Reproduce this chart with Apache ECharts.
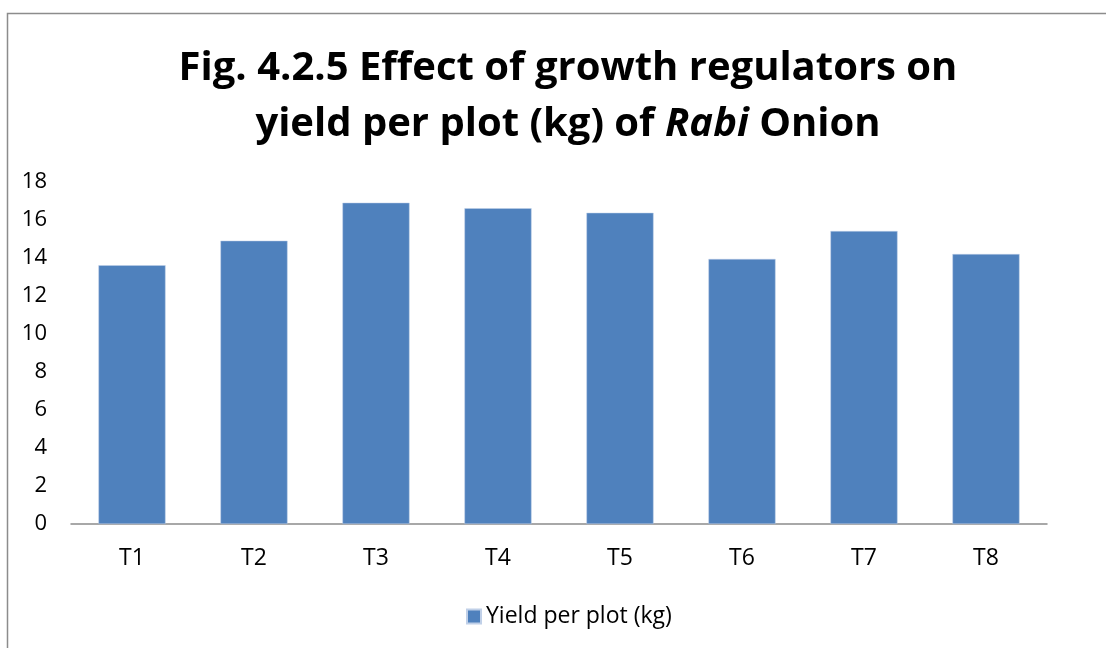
<!DOCTYPE html>
<html>
<head>
<meta charset="utf-8">
<script src="https://cdn.jsdelivr.net/npm/echarts@6/dist/echarts.min.js"></script>
<style>
	html, body { margin: 0; padding: 0; background: #fff; }
	#chart { width: 1106px; height: 648px; }
</style>
</head>
<body>
<div id="chart"></div>
<script>
	// treatments and yield
	const categories = ['T1', 'T2', 'T3', 'T4', 'T5', 'T6', 'T7', 'T8'];
	const yieldPerPlot = [13.62, 14.91, 16.91, 16.62, 16.38, 13.95, 15.42, 14.21];
	const seriesName = 'Yield per plot (kg)';

	const font = 'Open Sans';
	var myChart = echarts.init(document.getElementById('chart'));
	var option = {
		animation: false,
		backgroundColor: '#fff',
		textStyle: { fontFamily: font },
		graphic: [{
			type: 'rect',
			left: 5,
			top: 11,
			shape: { width: 1200, height: 800 },
			style: { fill: 'none', stroke: '#8c8c8c', lineWidth: 1.5 }
		}],
		title: {
			text: '{b|Fig. 4.2.5 Effect of growth regulators on}\n{b|yield per plot (kg) of }{i|Rabi}{b| Onion}',
			left: 563,
			textAlign: 'center',
			top: 36,
			textStyle: {
				rich: {
					b: { fontFamily: font, fontWeight: 'bold', fontSize: 40, color: '#000', lineHeight: 56 },
					i: { fontFamily: font, fontWeight: 'bold', fontStyle: 'italic', fontSize: 40, color: '#000', lineHeight: 56 }
				}
			}
		},
		legend: {
			top: 600,
			left: 461,
			itemWidth: 14,
			itemHeight: 14,
			icon: 'rect',
			itemGap: 8,
			textStyle: { fontSize: 23, color: '#000', fontFamily: font }
		},
		grid: { left: 71, right: 59, top: 182, bottom: 124 },
		xAxis: {
			type: 'category',
			data: categories,
			axisTick: { show: false },
			axisLine: { lineStyle: { color: '#8c8c8c', width: 1.5 } },
			axisLabel: { color: '#000', fontSize: 23, margin: 23 }
		},
		yAxis: {
			type: 'value',
			min: 0,
			max: 18,
			interval: 2,
			splitLine: { show: false },
			axisLine: { show: false },
			axisTick: { show: false },
			axisLabel: { color: '#000', fontSize: 22, margin: 24 }
		},
		series: [{
			name: seriesName,
			type: 'bar',
			data: yieldPerPlot,
			barWidth: '55%',
			itemStyle: { color: '#4f81bd', borderColor: '#c0d0e8', borderWidth: 0.5 }
		}]
	};
	myChart.setOption(option);
</script>
</body>
</html>
